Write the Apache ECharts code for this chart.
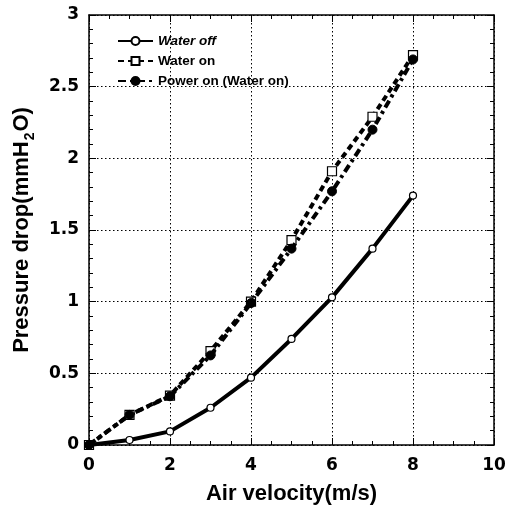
<!DOCTYPE html>
<html><head><meta charset="utf-8">
<script src="https://cdn.jsdelivr.net/npm/echarts@6/dist/echarts.min.js"></script>
<style>html,body{margin:0;padding:0;background:#fff}#c{width:514px;height:510px}</style>
</head><body><div id="c"></div>
<script>
var velocity = [0, 1, 2, 3, 4, 5, 6, 7, 8];
var waterOff = [0, 0.035, 0.095, 0.26, 0.47, 0.74, 1.03, 1.37, 1.74];
var waterOn = [0, 0.21, 0.345, 0.655, 1.0, 1.43, 1.91, 2.29, 2.72];
var powerOn = [0, 0.21, 0.34, 0.625, 0.99, 1.37, 1.77, 2.2, 2.69];
var seriesNames = ['Water off', 'Water on', 'Power on (Water on)'];

function pairs(ys){ return velocity.map(function(x,i){ return [x, ys[i]]; }); }
var F = 'Liberation Sans, Arial, sans-serif';
var FT = 'DejaVu Sans, sans-serif';
var chart = echarts.init(document.getElementById('c'), null, {renderer:'canvas'});
var axisCommon = {
  axisLine:{show:true, onZero:false, lineStyle:{color:'#000', width:1.5}},
  axisTick:{show:true, inside:true, length:7, lineStyle:{color:'#000', width:1}},
  minorTick:{show:true, length:4, lineStyle:{color:'#000', width:1}}
};
chart.setOption({
  animation:false,
  backgroundColor:'#fff',
  grid:{left:89, right:20, top:15, bottom:63, containLabel:false},
  legend:{
    left:112, top:29, orient:'vertical', itemWidth:35, itemHeight:10, itemGap:6,
    textStyle:{fontFamily:F, fontWeight:'bold', fontSize:13.5, color:'#000'},
    data:[
      {name:seriesNames[0], textStyle:{fontStyle:'italic'}},
      {name:seriesNames[1]},
      {name:seriesNames[2]}
    ]
  },
  xAxis:[
    Object.assign({}, axisCommon, {
      type:'value', min:0, max:10, interval:2, minorTick:Object.assign({}, axisCommon.minorTick, {splitNumber:4}),
      position:'bottom',
      name:'Air velocity(m/s)', nameLocation:'middle', nameGap:38,
      nameTextStyle:{fontFamily:F, fontWeight:'bold', fontSize:22, color:'#000'},
      axisLabel:{fontFamily:FT, fontWeight:'bold', fontSize:17, color:'#000', margin:12},
      splitLine:{show:true, lineStyle:{color:'#000', type:[1.5,2.5], width:1}}
    }),
    Object.assign({}, axisCommon, {
      type:'value', min:0, max:10, interval:2, minorTick:Object.assign({}, axisCommon.minorTick, {splitNumber:4}),
      position:'top', axisLabel:{show:false}, splitLine:{show:false}
    })
  ],
  yAxis:[
    Object.assign({}, axisCommon, {
      type:'value', min:0, max:3, interval:0.5, minorTick:Object.assign({}, axisCommon.minorTick, {splitNumber:5}),
      position:'left',
      name:'{n|Pressure drop(mmH}{s|2}{n|O)}', nameLocation:'middle', nameGap:54, nameRotate:90,
      nameTextStyle:{fontFamily:F, fontWeight:'bold', fontSize:22, color:'#000',
        rich:{
          n:{fontFamily:F, fontWeight:'bold', fontSize:22, color:'#000', verticalAlign:'top', lineHeight:24},
          s:{fontFamily:F, fontWeight:'bold', fontSize:14, color:'#000', verticalAlign:'top', lineHeight:15, padding:[12,1,0,1]}
        }},
      axisLabel:{fontFamily:FT, fontWeight:'bold', fontSize:17, color:'#000', margin:10},
      splitLine:{show:true, lineStyle:{color:'#000', type:[1.5,2.5], width:1}}
    }),
    Object.assign({}, axisCommon, {
      type:'value', min:0, max:3, interval:0.5, minorTick:Object.assign({}, axisCommon.minorTick, {splitNumber:5}),
      position:'right', axisLabel:{show:false}, splitLine:{show:false}
    })
  ],
  series:[
    {name:seriesNames[0], type:'line', data:pairs(waterOff), symbol:'circle', symbolSize:7,
     lineStyle:{color:'#000', width:4, type:'solid'},
     itemStyle:{color:'#fff', borderColor:'#000', borderWidth:1.2}, z:3},
    {name:seriesNames[1], type:'line', data:pairs(waterOn), symbol:'rect', symbolSize:9,
     lineStyle:{color:'#000', width:4, type:[6,4]},
     itemStyle:{color:'#fff', borderColor:'#000', borderWidth:1.2}, z:4},
    {name:seriesNames[2], type:'line', data:pairs(powerOn), symbol:'circle', symbolSize:9,
     lineStyle:{color:'#000', width:4, type:[8,4,3,4]},
     itemStyle:{color:'#000', borderColor:'#000', borderWidth:1}, z:5}
  ]
});
</script></body></html>
